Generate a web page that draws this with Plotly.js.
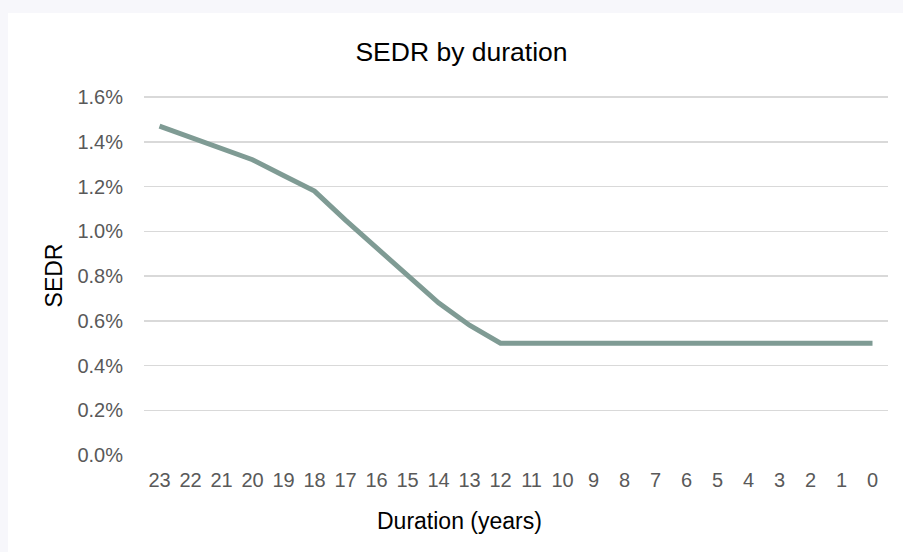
<!DOCTYPE html>
<html>
<head>
<meta charset="utf-8">
<script src="https://cdn.plot.ly/plotly-3.0.1.min.js"></script>
<style>
  html, body { margin: 0; padding: 0; background: #f7f7fb; width: 903px; height: 552px; overflow: hidden; }
  #chart { position: absolute; left: 8px; top: 13px; width: 895px; height: 539px; background: #ffffff; }
</style>
</head>
<body>
<div id="chart"></div>
<script>
const durations = ["23","22","21","20","19","18","17","16","15","14","13","12","11","10","9","8","7","6","5","4","3","2","1","0"];
const sedr = [0.0147,0.0142,0.0137,0.0132,0.0125,0.0118,0.0105,0.00925,0.0080,0.0068,0.0058,0.0050,0.0050,0.0050,0.0050,0.0050,0.0050,0.0050,0.0050,0.0050,0.0050,0.0050,0.0050,0.0050];
const chartTitle = "SEDR by duration";
const xTitle = "Duration (years)";
const yTitle = "SEDR";

const trace = {
  x: durations,
  y: sedr,
  type: "scatter",
  mode: "lines",
  line: { color: "#7f9b94", width: 5 },
  hoverinfo: "x+y"
};

const layout = {
  width: 895,
  height: 539,
  paper_bgcolor: "#ffffff",
  plot_bgcolor: "#ffffff",
  margin: { l: 136, r: 15, t: 83, b: 97 },
  font: { family: "Liberation Sans, Arial, sans-serif", color: "#595959" },
  showlegend: false,
  title: {
    text: chartTitle,
    font: { size: 26.5, color: "#000000" },
    x: 0.5067, xref: "container", xanchor: "center",
    y: 0.9276, yref: "container", yanchor: "middle"
  },
  xaxis: {
    type: "category",
    range: [-0.5, durations.length - 0.5],
    showgrid: false,
    zeroline: false,
    showline: false,
    ticks: "outside",
    ticklen: 7,
    tickcolor: "rgba(0,0,0,0)",
    tickfont: { size: 20, color: "#595959" },
    fixedrange: true
  },
  yaxis: {
    range: [0, 0.01605],
    dtick: 0.002,
    tick0: 0,
    tickformat: ".1%",
    showgrid: true,
    gridcolor: "#d9d9d9",
    gridwidth: 1.5,
    zeroline: false,
    showline: false,
    ticks: "outside",
    ticklen: 16,
    tickcolor: "rgba(0,0,0,0)",
    tickfont: { size: 20, color: "#595959" },
    title: { text: yTitle, font: { size: 23, color: "#000000" }, standoff: 8 },
    fixedrange: true
  },
  annotations: [{
    text: xTitle,
    xref: "paper", yref: "paper",
    x: (451 - 136) / 744, y: -0.184,
    xanchor: "center", yanchor: "middle",
    showarrow: false,
    font: { size: 23, color: "#000000" }
  }]
};

Plotly.newPlot("chart", [trace], layout, { displayModeBar: false, staticPlot: true });
</script>
</body>
</html>
